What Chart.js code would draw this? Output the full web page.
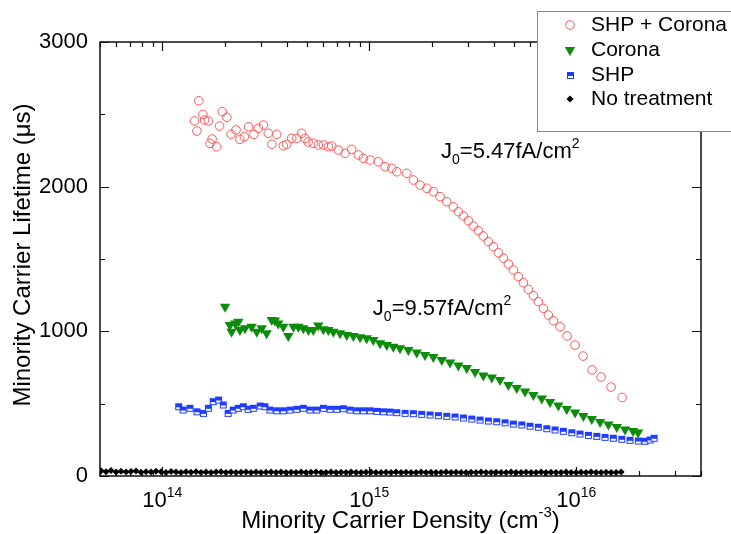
<!DOCTYPE html>
<html>
<head>
<meta charset="utf-8">
<script src="https://cdn.jsdelivr.net/npm/chart.js@4.4.0/dist/chart.umd.min.js"></script>
<style>
  html, body { margin: 0; padding: 0; background: #fff; }
  canvas { display: block; }
</style>
</head>
<body>
<canvas id="canvas" width="731" height="534"></canvas>
<script>
const FONT = "'Liberation Sans', Arial, sans-serif";

// SHP + Corona
const shpCoronaDensity = [1.43e14, 1.47e14, 1.50e14, 1.57e14, 1.60e14, 1.67e14, 1.70e14, 1.74e14, 1.83e14, 1.89e14,
  1.95e14, 2.05e14, 2.15e14, 2.27e14, 2.37e14, 2.49e14, 2.61e14, 2.77e14, 2.91e14, 3.08e14,
  3.25e14, 3.38e14, 3.57e14, 3.84e14, 3.99e14, 4.22e14, 4.46e14, 4.71e14, 4.89e14, 5.06e14,
  5.36e14, 5.67e14, 6.00e14, 6.34e14, 6.58e14, 7.09e14, 7.63e14, 8.22e14, 8.85e14, 9.36e14,
  1.01e15, 1.105e15, 1.191e15, 1.283e15, 1.357e15, 1.516e15, 1.632e15, 1.758e15, 1.894e15, 2.038e15,
  2.196e15, 2.365e15, 2.545e15, 2.692e15, 2.846e15, 3.009e15, 3.180e15, 3.362e15, 3.554e15, 3.758e15,
  3.972e15, 4.201e15, 4.440e15, 4.694e15, 4.963e15, 5.246e15, 5.546e15, 5.863e15, 6.199e15, 6.553e15,
  6.928e15, 7.323e15, 7.743e15, 8.343e15, 9.019e15, 9.856e15, 1.078e16, 1.191e16, 1.316e16, 1.471e16,
  1.663e16];
const shpCoronaLifetime = [2454, 2385, 2594, 2500, 2461, 2454, 2300, 2329, 2276, 2419,
  2518, 2479, 2362, 2392, 2327, 2345, 2414, 2362, 2403, 2426,
  2369, 2293, 2362, 2283, 2293, 2334, 2334, 2369, 2334, 2309,
  2300, 2288, 2288, 2276, 2281, 2253, 2230, 2258, 2219, 2196,
  2184, 2172, 2138, 2127, 2103, 2092, 2046, 2011, 1989, 1965,
  1931, 1896, 1861, 1827, 1797, 1765, 1728, 1696, 1659, 1620,
  1585, 1543, 1505, 1465, 1424, 1378, 1336, 1290, 1246, 1205,
  1159, 1113, 1073, 1032, 968, 905, 829, 733, 684, 615,
  543];

// Corona
const coronaDensity = [2.01e14, 2.12e14, 2.16e14, 2.25e14, 2.33e14, 2.37e14, 2.51e14, 2.70e14, 2.86e14, 3.02e14,
  3.19e14, 3.38e14, 3.50e14, 3.63e14, 3.84e14, 4.06e14, 4.30e14, 4.54e14, 4.80e14, 5.08e14,
  5.36e14, 5.67e14, 6.00e14, 6.34e14, 6.70e14, 7.22e14, 7.78e14, 8.37e14, 9.02e14, 9.71e14,
  1.045e15, 1.127e15, 1.214e15, 1.306e15, 1.407e15, 1.543e15, 1.694e15, 1.858e15, 2.038e15, 2.238e15,
  2.454e15, 2.692e15, 2.954e15, 3.240e15, 3.554e15, 3.902e15, 4.280e15, 4.694e15, 5.153e15, 5.652e15,
  6.199e15, 6.806e15, 7.463e15, 8.185e15, 8.988e15, 9.856e15, 1.081e16, 1.187e16, 1.302e16, 1.428e16,
  1.568e16, 1.719e16, 1.879e16, 1.987e16];
const coronaLifetime = [1170, 1044, 997, 1055, 1067, 1009, 1021, 1032, 997, 1021,
  986, 1078, 1075, 1055, 1032, 968, 1032, 1032, 1021, 1009,
  1009, 1040, 1014, 1009, 997, 986, 975, 968, 959, 952,
  940, 917, 905, 894, 883, 871, 854, 836, 823, 802,
  785, 764, 747, 719, 695, 681, 664, 629, 608, 584,
  560, 536, 511, 487, 463, 439, 415, 394, 373, 356,
  339, 321, 311, 301];

// SHP
const shpDensity = [1.20e14, 1.26e14, 1.36e14, 1.47e14, 1.58e14, 1.67e14, 1.76e14, 1.87e14, 1.97e14, 2.08e14,
  2.20e14, 2.33e14, 2.46e14, 2.60e14, 2.75e14, 2.97e14, 3.13e14, 3.31e14, 3.57e14, 3.84e14,
  4.14e14, 4.46e14, 4.80e14, 5.17e14, 5.57e14, 6.00e14, 6.46e14, 6.96e14, 7.49e14, 8.07e14,
  8.69e14, 9.36e14, 1.01e15, 1.086e15, 1.169e15, 1.259e15, 1.357e15, 1.488e15, 1.632e15, 1.791e15,
  1.964e15, 2.154e15, 2.365e15, 2.594e15, 2.846e15, 3.124e15, 3.426e15, 3.758e15, 4.125e15, 4.524e15,
  4.963e15, 5.448e15, 5.975e15, 6.553e15, 7.194e15, 7.890e15, 8.655e15, 9.502e15, 1.042e16, 1.143e16,
  1.255e16, 1.376e16, 1.509e16, 1.657e16, 1.817e16, 1.993e16, 2.147e16, 2.270e16, 2.374e16];
const shpLifetime = [479, 456, 468, 444, 433, 468, 514, 525, 491, 433,
  456, 468, 479, 461, 468, 484, 479, 456, 451, 451,
  456, 461, 468, 456, 456, 468, 461, 461, 465, 456,
  451, 451, 451, 447, 444, 442, 438, 433, 431, 426,
  422, 417, 413, 408, 401, 394, 387, 380, 375, 368,
  359, 353, 344, 337, 327, 318, 309, 299, 290, 281,
  274, 267, 261, 254, 247, 242, 240, 249, 261];

// No treatment
const untreatedDensity = [5.06e13, 5.35e13, 5.65e13, 5.98e13, 6.32e13, 6.68e13, 7.06e13, 7.46e13, 7.89e13, 8.34e13,
  8.82e13, 9.32e13, 9.86e13, 1.042e14, 1.102e14, 1.165e14, 1.231e14, 1.302e14, 1.376e14, 1.455e14,
  1.538e14, 1.626e14, 1.719e14, 1.818e14, 1.921e14, 2.031e14, 2.147e14, 2.270e14, 2.400e14, 2.537e14,
  2.682e14, 2.836e14, 2.998e14, 3.170e14, 3.351e14, 3.543e14, 3.745e14, 3.959e14, 4.186e14, 4.425e14,
  4.678e14, 4.946e14, 5.229e14, 5.528e14, 5.844e14, 6.178e14, 6.531e14, 6.905e14, 7.299e14, 7.717e14,
  8.160e14, 8.626e14, 9.120e14, 9.641e14, 1.019e15, 1.077e15, 1.139e15, 1.204e15, 1.273e15, 1.346e15,
  1.423e15, 1.504e15, 1.590e15, 1.681e15, 1.777e15, 1.879e15, 1.987e15, 2.100e15, 2.221e15, 2.348e15,
  2.482e15, 2.624e15, 2.774e15, 2.933e15, 3.101e15, 3.278e15, 3.466e15, 3.664e15, 3.873e15, 4.095e15,
  4.329e15, 4.577e15, 4.838e15, 5.115e15, 5.407e15, 5.717e15, 6.044e15, 6.389e15, 6.755e15, 7.141e15,
  7.549e15, 7.980e15, 8.437e15, 8.919e15, 9.429e15, 9.970e15, 1.054e16, 1.114e16, 1.178e16, 1.245e16,
  1.316e16, 1.392e16, 1.471e16, 1.555e16, 1.645e16];
const untreatedLifetime = [36, 30, 38, 28, 33, 27, 31, 35, 26, 30,
  27, 33, 29, 25, 31, 27, 24, 29, 26, 30,
  25, 28, 24, 27, 29, 25, 27, 24, 26, 28,
  25, 27, 24, 26, 28, 25, 27, 24, 26, 25,
  28, 24, 26, 27, 25, 24, 27, 25, 26, 24,
  28, 25, 24, 26, 27, 25, 24, 26, 25, 27,
  24, 26, 25, 24, 27, 25, 26, 24, 25, 27,
  24, 26, 25, 24, 26, 25, 27, 24, 25, 26,
  24, 25, 27, 24, 25, 26, 24, 25, 27, 24,
  26, 25, 24, 28, 25, 24, 26, 25, 27, 25,
  24, 26, 25, 24, 27];

const seriesNames = ['SHP + Corona', 'Corona', 'SHP', 'No treatment'];
const xExponents = [14, 15, 16];

// fitted J0 values and where they sit (density, lifetime)
const j0Values = ['5.47', '9.57'];
const j0Anchors = [[2.22e15, 2198], [1.04e15, 1113]];

const RED = 'rgb(255, 85, 85)';
const GREEN = '#0b8c0b';
const BLUE = '#1f3cff';

// square marker, top filled, bottom open
function halfSquare(color) {
  const c = document.createElement('canvas');
  c.width = 9; c.height = 9;
  const g = c.getContext('2d');
  g.fillStyle = color;
  g.fillRect(1, 1, 7, 7);
  g.fillStyle = '#fff';
  g.fillRect(2, 5, 5, 2);
  return c;
}
const shpMarker = halfSquare(BLUE);

const pts = (xs, ys) => xs.map((x, i) => ({ x: x, y: ys[i] }));

// text runs with sub/superscripts
function drawRuns(ctx, runs, x, y, align) {
  let total = 0;
  runs.forEach(r => {
    ctx.font = r.size + 'px ' + FONT;
    r.w = ctx.measureText(r.t).width;
    total += r.w;
  });
  let cx = align === 'center' ? x - total / 2 : x;
  runs.forEach(r => {
    ctx.font = r.size + 'px ' + FONT;
    ctx.fillText(r.t, cx, y + (r.dy || 0));
    cx += r.w;
  });
}

function marker(ctx, kind, x, y) {
  ctx.save();
  if (kind === 0) {
    ctx.strokeStyle = RED; ctx.lineWidth = 1;
    ctx.beginPath(); ctx.arc(x, y, 4.3, 0, Math.PI * 2); ctx.stroke();
  } else if (kind === 1) {
    const r = 6;
    ctx.fillStyle = GREEN;
    ctx.beginPath();
    ctx.moveTo(x, y + r);
    ctx.lineTo(x - r * 0.866, y - r / 2);
    ctx.lineTo(x + r * 0.866, y - r / 2);
    ctx.closePath(); ctx.fill();
  } else if (kind === 2) {
    ctx.drawImage(shpMarker, Math.round(x - 4.5), Math.round(y - 4.5));
  } else {
    ctx.fillStyle = '#000';
    ctx.beginPath();
    ctx.moveTo(x, y - 3.5); ctx.lineTo(x + 3.5, y); ctx.lineTo(x, y + 3.5); ctx.lineTo(x - 3.5, y);
    ctx.closePath(); ctx.fill();
  }
  ctx.restore();
}

const axesBox = {
  id: 'axesBox',
  beforeDatasetsDraw(chart) {
    const { ctx, chartArea: a, scales: { x, y } } = chart;
    ctx.save();
    ctx.strokeStyle = '#111';
    ctx.lineWidth = 1.5;
    ctx.strokeRect(a.left, a.top, a.right - a.left, a.bottom - a.top);
    ctx.lineWidth = 1.2;
    ctx.beginPath();
    for (let v = 0; v <= 3000; v += 500) {
      const py = Math.round(y.getPixelForValue(v)) + 0.5;
      const len = v % 1000 === 0 ? 9 : 5;
      ctx.moveTo(a.left, py); ctx.lineTo(a.left + len, py);
      ctx.moveTo(a.right, py); ctx.lineTo(a.right - len, py);
    }
    for (let e = 13; e <= 16; e++) {
      for (let m = 1; m <= 9; m++) {
        const v = m * Math.pow(10, e);
        if (v < x.min || v > x.max) continue;
        const px = Math.round(x.getPixelForValue(v)) + 0.5;
        const len = m === 1 ? 9 : 5;
        ctx.moveTo(px, a.bottom); ctx.lineTo(px, a.bottom - len);
        ctx.moveTo(px, a.top); ctx.lineTo(px, a.top + len);
      }
    }
    ctx.stroke();
    ctx.restore();
  },
  afterDraw(chart) {
    const { ctx, chartArea: a, scales: { x, y } } = chart;
    ctx.save();
    ctx.fillStyle = '#000';
    ctx.textBaseline = 'alphabetic';
    ctx.textAlign = 'left';

    // decade labels
    xExponents.forEach(e => {
      const px = x.getPixelForValue(Math.pow(10, e));
      drawRuns(ctx, [{ t: '10', size: 22 }, { t: String(e), size: 14, dy: -10 }], px, 507, 'center');
    });

    // axis titles
    drawRuns(ctx, [{ t: 'Minority Carrier Density (cm', size: 24 }, { t: '-3', size: 15, dy: -11 }, { t: ')', size: 24 }],
      (a.left + a.right) / 2, 528, 'center');
    ctx.save();
    ctx.translate(30, 255);
    ctx.rotate(-Math.PI / 2);
    drawRuns(ctx, [{ t: 'Minority Carrier Lifetime (\u03bcs)', size: 24 }], 0, 0, 'center');
    ctx.restore();

    // J0 notes
    j0Values.forEach((val, i) => {
      const px = x.getPixelForValue(j0Anchors[i][0]);
      const py = y.getPixelForValue(j0Anchors[i][1]);
      drawRuns(ctx, [{ t: 'J', size: 22 }, { t: '0', size: 14, dy: 6 }, { t: '=' + val + 'fA/cm', size: 22 }, { t: '2', size: 14, dy: -10 }], px, py, 'left');
    });

    // legend box
    ctx.fillStyle = '#fff';
    ctx.fillRect(537, 11, 210, 120);
    ctx.strokeStyle = '#8a8a8a';
    ctx.lineWidth = 1;
    ctx.strokeRect(537.5, 11.5, 210, 120);
    ctx.fillStyle = '#000';
    ctx.font = '21px ' + FONT;
    ctx.textBaseline = 'middle';
    const rows = [25, 50, 75, 99];
    seriesNames.forEach((name, i) => {
      marker(ctx, i, 570, rows[i]);
      ctx.fillText(name, 591, rows[i]);
    });
    ctx.restore();
  }
};

new Chart(document.getElementById('canvas'), {
  type: 'scatter',
  data: {
    datasets: [{
      label: seriesNames[0],
      data: pts(shpCoronaDensity, shpCoronaLifetime),
      pointStyle: 'circle',
      pointRadius: 4.3,
      borderColor: RED,
      backgroundColor: 'rgba(0,0,0,0)',
      borderWidth: 1
    }, {
      label: seriesNames[1],
      data: pts(coronaDensity, coronaLifetime),
      pointStyle: 'triangle',
      rotation: 180,
      pointRadius: 6,
      backgroundColor: GREEN,
      borderColor: GREEN,
      borderWidth: 0
    }, {
      label: seriesNames[2],
      data: pts(shpDensity, shpLifetime),
      pointStyle: shpMarker,
      pointRadius: 4,
      backgroundColor: BLUE,
      borderColor: BLUE
    }, {
      label: seriesNames[3],
      data: pts(untreatedDensity, untreatedLifetime),
      pointStyle: 'rectRot',
      pointRadius: 3.5,
      backgroundColor: '#000',
      borderColor: '#000',
      borderWidth: 0
    }]
  },
  options: {
    responsive: false,
    animation: false,
    events: [],
    layout: { padding: { top: 42, right: 30, left: 0, bottom: 0 } },
    plugins: { legend: { display: false }, tooltip: { enabled: false } },
    scales: {
      x: {
        type: 'logarithmic',
        min: 5e13,
        max: 4e16,
        grid: { display: false, drawTicks: false },
        border: { display: false },
        ticks: { display: false },
        afterFit: s => { s.height = 58; }
      },
      y: {
        min: 0,
        max: 3000,
        grid: { display: false, drawTicks: false },
        border: { display: false },
        ticks: {
          stepSize: 500,
          padding: 12,
          color: '#000',
          font: { family: FONT, size: 22 },
          callback: v => (v % 1000 === 0 ? v : '')
        },
        afterFit: s => { s.width = 100; }
      }
    }
  },
  plugins: [axesBox]
});
</script>
</body>
</html>
